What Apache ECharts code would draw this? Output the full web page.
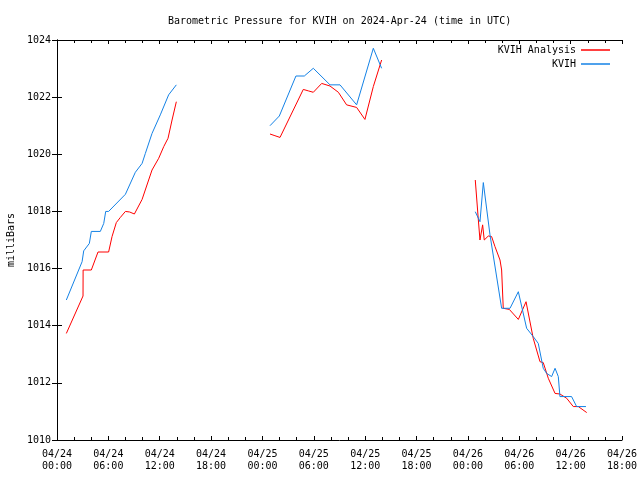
<!DOCTYPE html>
<html>
<head>
<meta charset="utf-8">
<script src="https://cdn.jsdelivr.net/npm/echarts@6/dist/echarts.min.js"></script>
<style>html,body{margin:0;padding:0;background:#fff;}#c{width:640px;height:480px;}</style>
</head>
<body>
<div id="c"></div>
<script>
// Hours since 2024-04-24 00:00 UTC; null marks a gap in the record
var analysisHours = [1.09,3.04,3.05,4.01,4.79,6.03,6.43,6.93,7.40,7.99,8.49,9.04,9.94,11.10,11.88,12.47,12.97,13.44,13.94,
  null,
  24.88,25.46,26.05,28.77,29.35,29.94,30.92,31.89,32.87,33.83,35.00,35.97,36.95,37.92,
  null,
  48.86,49.22,49.41,49.72,49.91,50.38,50.77,51.16,51.75,51.94,52.13,52.84,53.89,54.79,55.63,56.42,56.80,57.39,58.18,58.75,59.54,60.31,60.90,61.88];
var analysisMb = [1013.73,1015.04,1015.95,1015.95,1016.58,1016.58,1017.12,1017.61,1017.79,1018.00,1017.98,1017.91,1018.42,1019.45,1019.86,1020.27,1020.56,1021.20,1021.84,
  null,
  1020.71,1020.65,1020.59,1022.27,1022.22,1022.17,1022.48,1022.39,1022.17,1021.73,1021.64,1021.22,1022.37,1023.30,
  null,
  1019.10,1017.70,1017.00,1017.53,1017.00,1017.14,1017.12,1016.77,1016.30,1015.95,1014.61,1014.57,1014.22,1014.84,1013.56,1012.74,1012.71,1012.16,1011.63,1011.61,1011.46,1011.17,1011.17,1010.96];

var obsHours = [1.09,2.93,3.12,3.78,4.01,5.06,5.46,5.69,6.03,7.99,9.15,9.94,10.32,11.10,12.07,13.04,13.94,
  null,
  24.88,25.97,27.91,28.89,29.94,31.89,33.06,35.00,36.95,37.92,
  null,
  48.86,49.41,49.80,50.58,51.94,52.92,53.89,54.86,55.63,56.22,56.80,57.20,57.78,58.18,58.56,58.75,60.11,60.70,61.79];
var obsMb = [1014.90,1016.24,1016.62,1016.88,1017.30,1017.30,1017.58,1018.00,1018.00,1018.60,1019.37,1019.68,1020.03,1020.73,1021.38,1022.08,1022.43,
  null,
  1021.00,1021.34,1022.74,1022.74,1023.01,1022.43,1022.43,1021.73,1023.71,1023.01,
  null,
  1017.99,1017.64,1019.01,1017.18,1014.61,1014.61,1015.19,1013.91,1013.62,1013.38,1012.51,1012.33,1012.22,1012.51,1012.22,1011.52,1011.52,1011.17,1011.17];

var xTickLabels = ['04/24\n00:00','04/24\n06:00','04/24\n12:00','04/24\n18:00',
  '04/25\n00:00','04/25\n06:00','04/25\n12:00','04/25\n18:00',
  '04/26\n00:00','04/26\n06:00','04/26\n12:00','04/26\n18:00'];

var titleText = 'Barometric Pressure for KVIH on 2024-Apr-24 (time in UTC)';
var seriesNames = ['KVIH Analysis', 'KVIH'];

function zip(h, v) {
  var out = [];
  for (var i = 0; i < h.length; i++) {
    out.push(h[i] === null ? [null, null] : [h[i], v[i]]);
  }
  return out;
}

var FONT = 'DejaVu Sans Mono';
var chart = echarts.init(document.getElementById('c'), null, {renderer: 'canvas'});
var axisLine = {show: true, lineStyle: {color: '#000', width: 1}};
var xCommon = {
  type: 'value', min: 0, max: 66, interval: 6,
  axisLine: axisLine,
  axisTick: {show: true, inside: true, length: 4, lineStyle: {color: '#000'}},
  minorTick: {show: true, splitNumber: 3, length: 3, lineStyle: {color: '#000'}},
  splitLine: {show: false}, minorSplitLine: {show: false}
};
var yCommon = {
  type: 'value', min: 1010, max: 1024, interval: 2,
  axisLine: axisLine,
  axisTick: {show: true, inside: true, length: 5, lineStyle: {color: '#000'}},
  splitLine: {show: false}
};

chart.setOption({
  animation: false,
  backgroundColor: '#fff',
  textStyle: {fontFamily: FONT},
  title: {
    text: titleText, left: 168, top: 16, padding: 0,
    textStyle: {fontFamily: FONT, fontSize: 10, fontWeight: 'normal', color: '#000'}
  },
  legend: [
    {data: [seriesNames[0]], right: 30, top: 45, align: 'right', orient: 'vertical',
     icon: 'rect', itemWidth: 29, itemHeight: 1.5, padding: 0,
     textStyle: {fontFamily: FONT, fontSize: 10, color: '#000'}},
    {data: [seriesNames[1]], right: 30, top: 59, align: 'right', orient: 'vertical',
     icon: 'rect', itemWidth: 29, itemHeight: 1.5, padding: 0,
     textStyle: {fontFamily: FONT, fontSize: 10, color: '#000'}}
  ],
  grid: {left: 57, right: 18, top: 40, bottom: 40, containLabel: false, outerBoundsMode: 'none'},
  xAxis: [
    Object.assign({}, xCommon, {
      position: 'bottom',
      axisLabel: {show: true, margin: 8, fontFamily: FONT, fontSize: 10, color: '#000', lineHeight: 12,
        formatter: function (v) { var i = Math.round(v / 6); return xTickLabels[i] || ''; }}
    }),
    Object.assign({}, xCommon, {position: 'top', axisLabel: {show: false}})
  ],
  yAxis: [
    Object.assign({}, yCommon, {
      position: 'left',
      name: 'milliBars', nameLocation: 'middle', nameGap: 40, nameRotate: 90,
      nameTextStyle: {fontFamily: FONT, fontSize: 10, color: '#000'},
      axisLabel: {show: true, margin: 6, fontFamily: FONT, fontSize: 10, color: '#000',
        formatter: function (v) { return String(v); }}
    }),
    Object.assign({}, yCommon, {position: 'right', axisLabel: {show: false}})
  ],
  series: [
    {name: seriesNames[0], type: 'line', data: zip(analysisHours, analysisMb), connectNulls: false,
     symbol: 'none', color: '#ff0000', lineStyle: {width: 1, color: '#ff0000'}, itemStyle: {color: '#ff0000'}},
    {name: seriesNames[1], type: 'line', data: zip(obsHours, obsMb), connectNulls: false,
     symbol: 'none', color: '#1482e6', lineStyle: {width: 1, color: '#1482e6'}, itemStyle: {color: '#1482e6'}}
  ]
});
</script>
</body>
</html>
